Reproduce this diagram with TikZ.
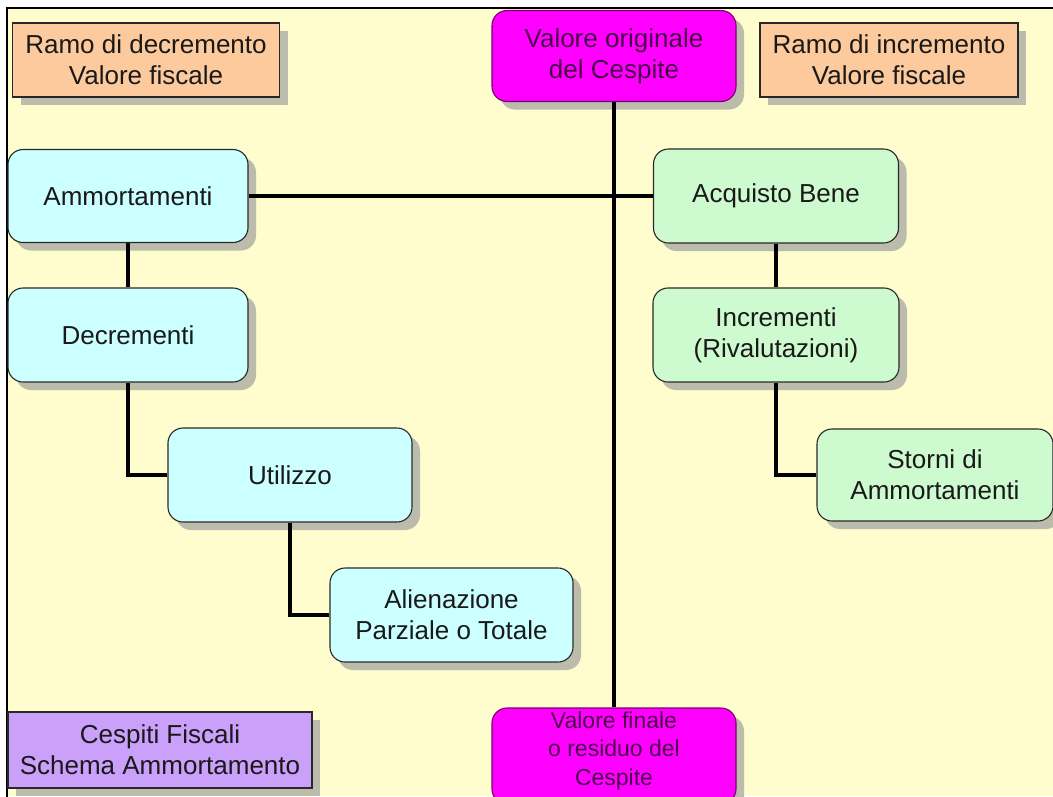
\documentclass[tikz,border=0pt]{standalone}
\usepackage{fontspec}
\setmainfont{Liberation Sans}
\usetikzlibrary{shadows}
\definecolor{bgy}{RGB}{255,252,206}
\definecolor{shd}{RGB}{188,188,172}
\definecolor{orng}{RGB}{252,202,156}
\definecolor{cyanb}{RGB}{204,255,255}
\definecolor{greenb}{RGB}{206,250,208}
\definecolor{magb}{RGB}{255,0,255}
\definecolor{lavb}{RGB}{202,160,250}
\definecolor{txt}{RGB}{25,25,25}
\definecolor{magtxt}{RGB}{75,0,75}
\definecolor{bord}{RGB}{40,40,40}
\definecolor{magbord}{RGB}{120,0,110}
\begin{document}
\begin{tikzpicture}[x=1pt,y=-1pt,
  basebox/.style={draw=bord, line width=1.1pt, align=center, inner sep=0pt,
    text=txt, font=\fontsize{26}{31}\selectfont,
    drop shadow={shadow xshift=8pt, shadow yshift=-8pt, fill=shd, opacity=1}},
  roundbox/.style={basebox, rounded corners=15pt},
  sharpbox/.style={basebox},
  cyanbox/.style={roundbox, fill=cyanb},
  greenbox/.style={roundbox, fill=greenb},
  magbox/.style={roundbox, fill=magb, draw=magbord, text=magtxt},
  orbox/.style={sharpbox, fill=orng},
  lavbox/.style={sharpbox, fill=lavb},
  conn/.style={line width=3.3pt, black}
]
\useasboundingbox (0,0) rectangle (1053,796);
\clip (0,0) rectangle (1053,796);
\fill[white] (0,0) rectangle (1053,796);
\fill[bgy] (7,8) rectangle (1053,796);
\draw[line width=2.5pt] (7,800) -- (7,8) -- (1060,8);

% nodes
\node[orbox, minimum width=267pt, minimum height=74pt] (rdec) at (146,60) {Ramo di decremento\\Valore fiscale};
\node[orbox, minimum width=258pt, minimum height=74pt] (rinc) at (889,60) {Ramo di incremento\\Valore fiscale};
\node[magbox, minimum width=244pt, minimum height=91pt] (vorig) at (614,56) {Valore originale\\del Cespite};
\node[cyanbox, minimum width=240pt, minimum height=93pt] (ammo) at (128,196) {Ammortamenti};
\node[cyanbox, minimum width=240pt, minimum height=94pt] (decr) at (128,335) {Decrementi};
\node[cyanbox, minimum width=244pt, minimum height=94pt] (util) at (290,475) {Utilizzo};
\node[cyanbox, minimum width=243pt, minimum height=94pt] (alien) at (451.5,615) {Alienazione\\Parziale o Totale};
\node[greenbox, minimum width=245pt, minimum height=94pt] (acq) at (776,196) {Acquisto Bene};
\node[greenbox, minimum width=246pt, minimum height=94pt] (incr) at (776,335) {Incrementi\\(Rivalutazioni)};
\node[greenbox, minimum width=236pt, minimum height=92pt] (storni) at (935,475) {Storni di\\Ammortamenti};
\node[lavbox, minimum width=304pt, minimum height=76pt] (cesp) at (160,750) {Cespiti Fiscali\\Schema Ammortamento};
\node[magbox, minimum width=244pt, minimum height=96pt] (vfin) at (614,756) {};
\node[text=magtxt, align=center, inner sep=0pt, font=\fontsize{23}{28.5}\selectfont] (vfint) at (614,751) {Valore finale\\o residuo del\\Cespite};

% connectors
\draw[conn] (vorig.south) -- (vfin.north);
\draw[conn] (ammo.east) -- (acq.west);
\draw[conn] (ammo.south) -- (decr.north);
\draw[conn] (decr.south) |- (util.west);
\draw[conn] (util.south) |- (alien.west);
\draw[conn] (acq.south) -- (incr.north);
\draw[conn] (incr.south) |- (storni.west);
\end{tikzpicture}
\end{document}
